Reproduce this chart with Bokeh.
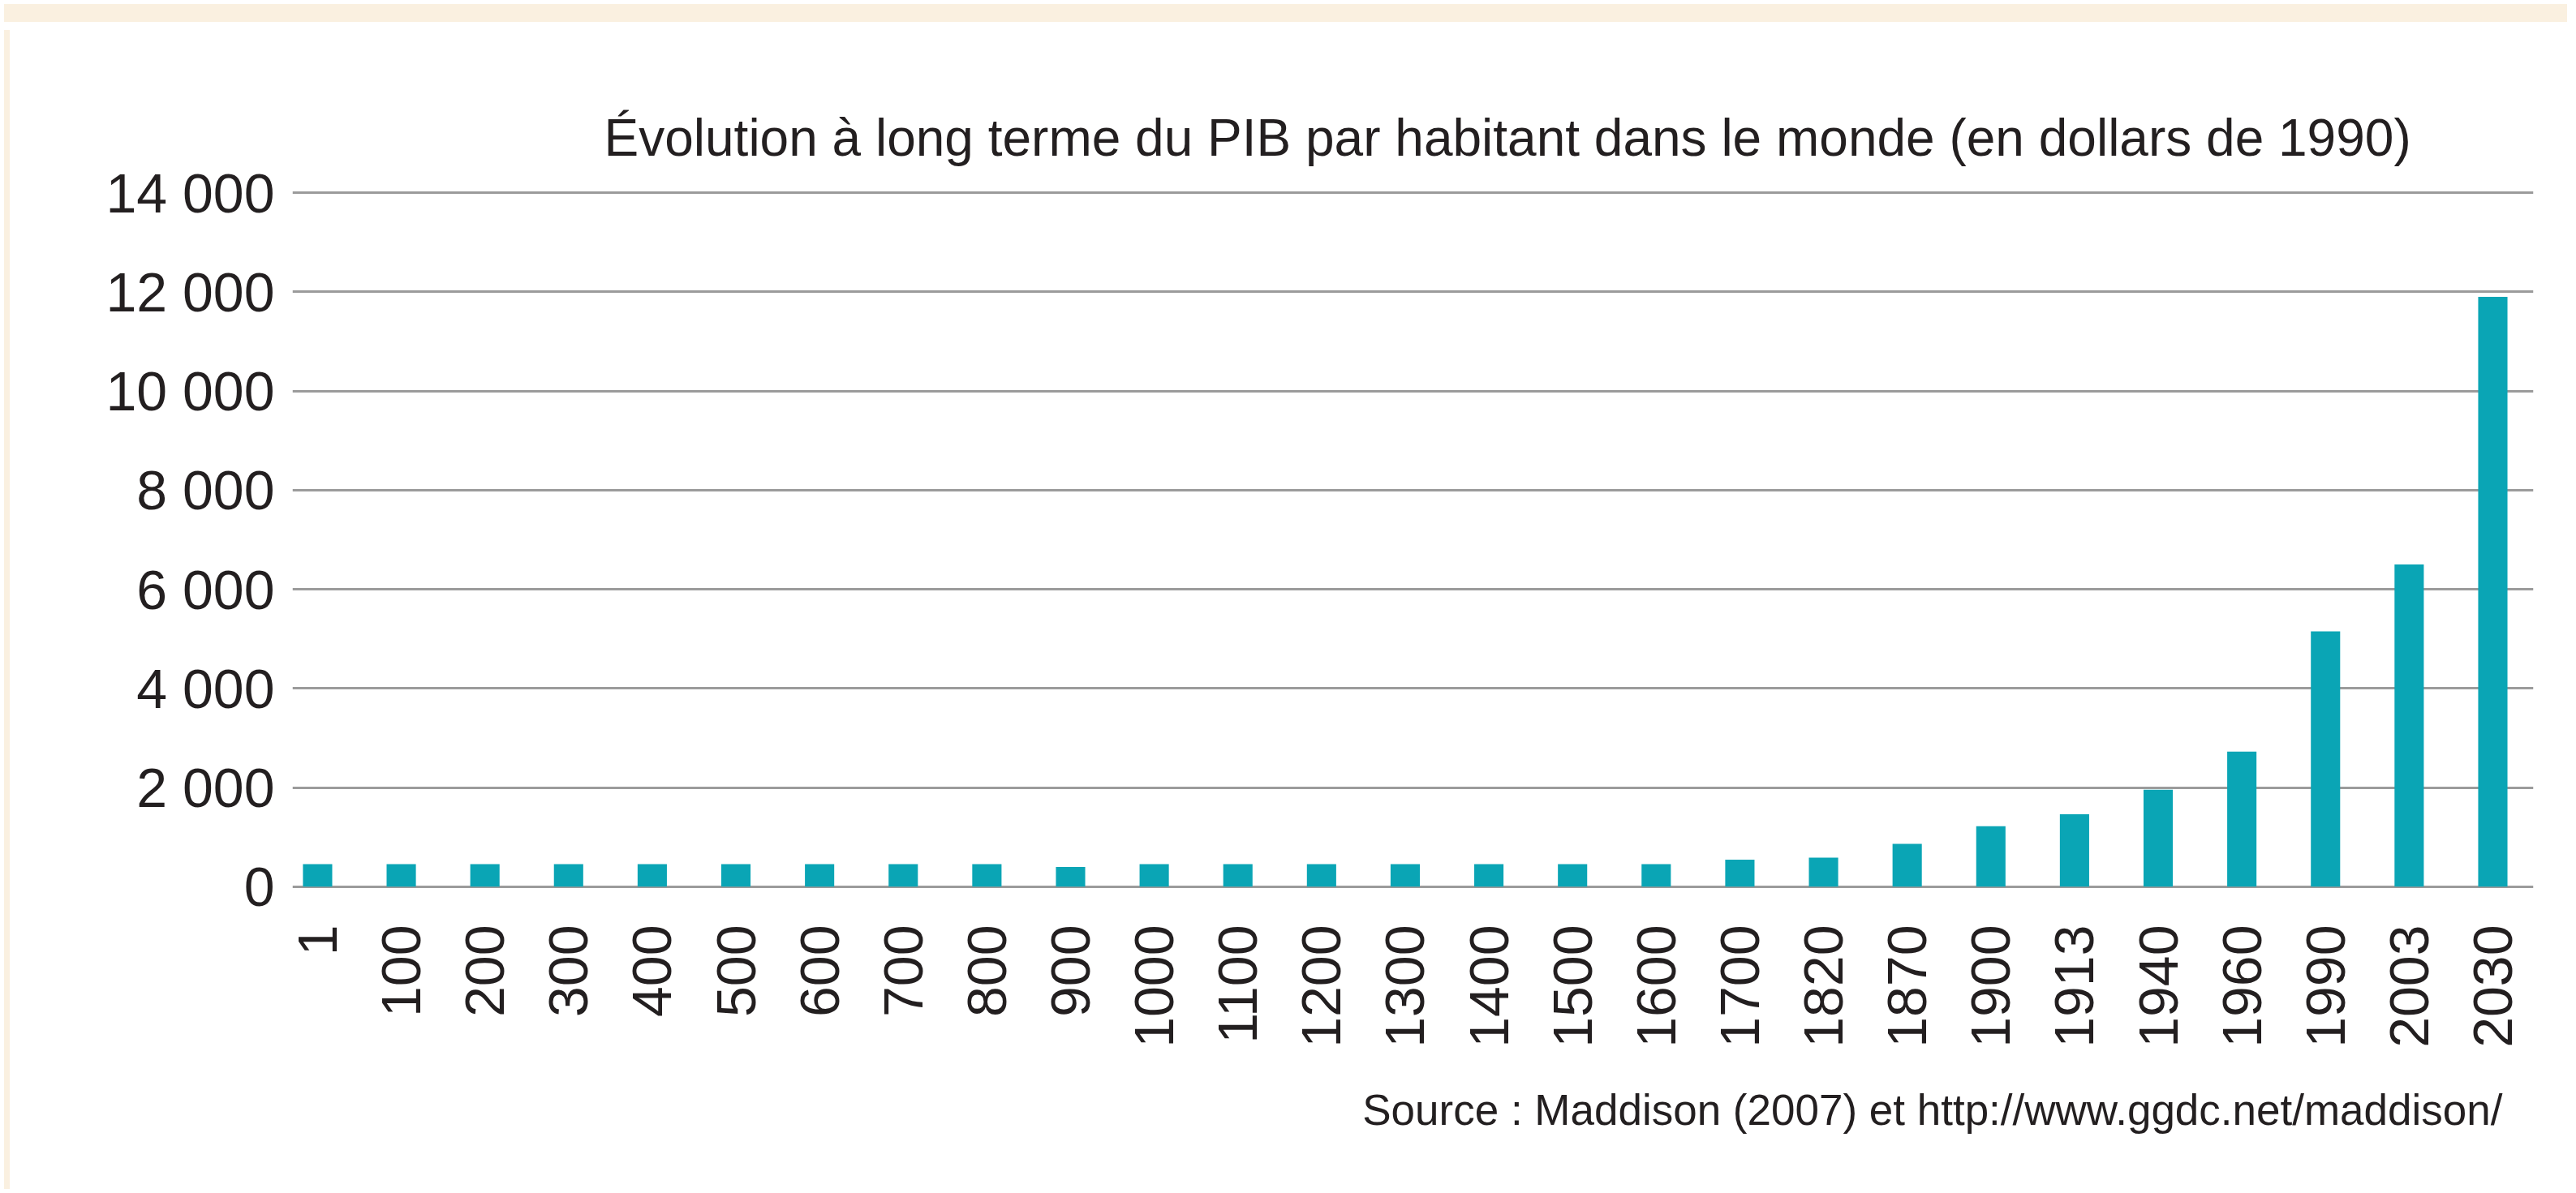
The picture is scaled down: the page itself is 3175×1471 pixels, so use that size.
import math
from bokeh.plotting import figure
from bokeh.models import Range1d, FixedTicker, Title, Div
from bokeh.layouts import column, row
from bokeh.embed import file_html
from bokeh.resources import INLINE

# ---- data ----
years = ["1", "100", "200", "300", "400", "500", "600", "700", "800", "900",
         "1000", "1100", "1200", "1300", "1400", "1500", "1600", "1700",
         "1820", "1870", "1900", "1913", "1940", "1960", "1990", "2003", "2030"]
gdp_per_capita = [455, 455, 455, 455, 455, 455, 455, 455, 455, 400,
                  455, 455, 455, 455, 455, 455, 455, 545,
                  585, 865, 1220, 1460, 1955, 2725, 5150, 6500, 11900]
y_ticks = [0, 2000, 4000, 6000, 8000, 10000, 12000, 14000]
title_text = "Évolution à long terme du PIB par habitant dans le monde (en dollars de 1990)"
source_text = "Source : Maddison (2007) et http://www.ggdc.net/maddison/"

FONT = "'Liberation Sans Narrow', 'Liberation Sans', Arial, sans-serif"
TEXT = "#231f20"
BAR = "#0aa5b5"
GRID = "#9b9b9b"
CREAM = "#faf0e0"

x_idx = list(range(len(years)))

FIG_W, FIG_H = 3152, 1429

p = figure(width=FIG_W, height=FIG_H, output_backend="svg", toolbar_location=None,
           x_range=Range1d(-0.30, len(years) - 1 + 0.485),
           y_range=Range1d(-150, 14150),
           min_border_left=343, min_border_right=47,
           min_border_top=196, min_border_bottom=359)

p.border_fill_color = "white"
p.background_fill_color = "white"
p.outline_line_color = None

p.vbar(x=x_idx, top=gdp_per_capita, bottom=0, width=0.35,
       fill_color=BAR, line_color=None)

# y axis
p.yaxis.ticker = FixedTicker(ticks=y_ticks)
p.yaxis.major_label_overrides = {t: (f"{t:,}".replace(",", " ")) for t in y_ticks}
p.yaxis.axis_line_color = None
p.yaxis.major_tick_line_color = None
p.yaxis.minor_tick_line_color = None
p.yaxis.major_tick_out = 0
p.yaxis.major_tick_in = 0
p.yaxis.major_label_standoff = 22
p.yaxis.major_label_text_font = FONT
p.yaxis.major_label_text_font_size = "68px"
p.yaxis.major_label_text_color = TEXT

# x axis
p.xaxis.ticker = FixedTicker(ticks=x_idx)
p.xaxis.major_label_overrides = {i: y for i, y in zip(x_idx, years)}
p.xaxis.major_label_orientation = math.pi / 2
p.xaxis.axis_line_color = None
p.xaxis.major_tick_line_color = None
p.xaxis.minor_tick_line_color = None
p.xaxis.major_tick_out = 0
p.xaxis.major_tick_in = 0
p.xaxis.major_label_standoff = 38
p.xaxis.major_label_text_font = FONT
p.xaxis.major_label_text_font_size = "68px"
p.xaxis.major_label_text_color = TEXT

# grid
p.xgrid.visible = False
p.ygrid.grid_line_color = GRID
p.ygrid.grid_line_width = 3

# title
p.title.text = title_text
p.title.align = "left"
p.title.offset = 384
p.title.standoff = 46
p.title.text_font = FONT
p.title.text_font_size = "64px"
p.title.text_font_style = "normal"
p.title.text_color = TEXT

src = Title(text=source_text, align="right", offset=38, standoff=84,
            text_font=FONT, text_font_size="53px", text_font_style="normal",
            text_color=TEXT)
p.add_layout(src, "below")

# cream frame strips around the white panel
top_strip = Div(text="", width=FIG_W + 7, height=22,
                styles={"background-color": CREAM})
left_strip = Div(text="", width=7, height=FIG_H,
                 styles={"background-color": CREAM})
bottom_strip = Div(text="", width=FIG_W + 7, height=4,
                   styles={"background-color": CREAM})

layout = column(top_strip, row(left_strip, p, spacing=0), bottom_strip, spacing=0)

open("out.html", "w").write(file_html(layout, INLINE))
